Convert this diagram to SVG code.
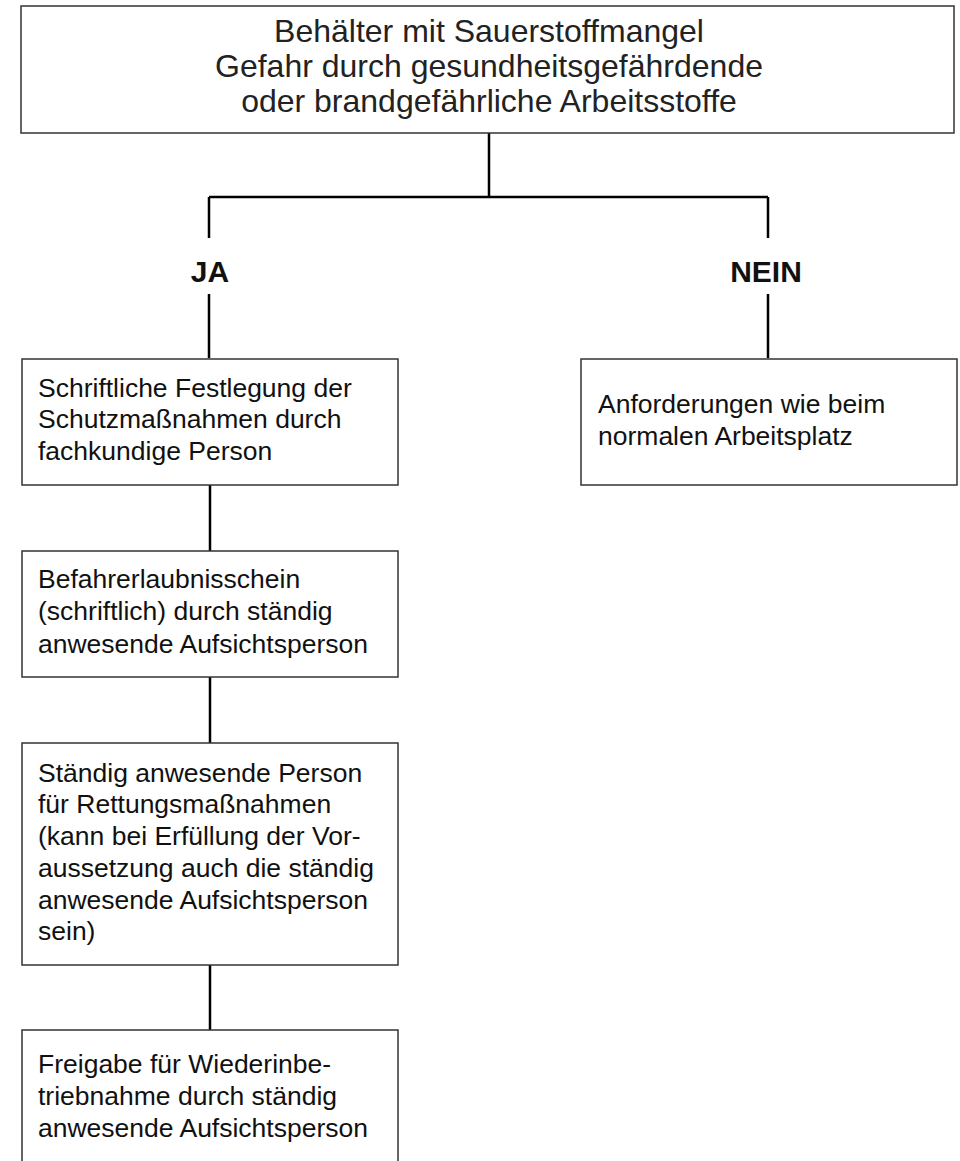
<svg xmlns="http://www.w3.org/2000/svg" width="960" height="1161" viewBox="0 0 960 1161">
<style>
.box{fill:#fff;stroke:#333;stroke-width:1.5}
.t{font-family:"Liberation Sans",Arial,sans-serif;font-size:26.5px;fill:#111}
.h{font-family:"Liberation Sans",Arial,sans-serif;font-size:32px;fill:#222;text-anchor:middle}
.lbl{font-family:"Liberation Sans",Arial,sans-serif;font-size:30px;font-weight:bold;fill:#111;text-anchor:middle}
.c{stroke:#000;stroke-width:2.5;fill:none}
</style>
<rect width="960" height="1161" fill="#fff"/>
<g id="connectors">
<path class="c" d="M489 133V197M209 197H768M209 197V238M209 294V358M768 197V238M768 294V358"/>
<path class="c" d="M210 485V551M210 677V743M210 965V1030"/>
<text class="lbl" x="210" y="282">JA</text>
<text class="lbl" x="766" y="282">NEIN</text>
</g>
<g id="top">
<rect class="box" x="21" y="6" width="933" height="127"/>
<text class="h" x="489" y="42">Behälter mit Sauerstoffmangel</text>
<text class="h" x="489" y="77">Gefahr durch gesundheitsgefährdende</text>
<text class="h" x="489" y="112">oder brandgefährliche Arbeitsstoffe</text>
</g>
<g id="ja1">
<rect class="box" x="22" y="359" width="376" height="126"/>
<text class="t" x="38" y="397">Schriftliche Festlegung der</text>
<text class="t" x="38" y="428">Schutzmaßnahmen durch</text>
<text class="t" x="38" y="460">fachkundige Person</text>
</g>
<g id="nein1">
<rect class="box" x="581" y="359" width="376" height="126"/>
<text class="t" x="598" y="413">Anforderungen wie beim</text>
<text class="t" x="598" y="445">normalen Arbeitsplatz</text>
</g>
<g id="ja2">
<rect class="box" x="22" y="551" width="376" height="126"/>
<text class="t" x="38" y="588">Befahrerlaubnisschein</text>
<text class="t" x="38" y="620">(schriftlich) durch ständig</text>
<text class="t" x="38" y="653">anwesende Aufsichtsperson</text>
</g>
<g id="ja3">
<rect class="box" x="22" y="743" width="376" height="222"/>
<text class="t" x="38" y="782">Ständig anwesende Person</text>
<text class="t" x="38" y="813">für Rettungsmaßnahmen</text>
<text class="t" x="38" y="845">(kann bei Erfüllung der Vor-</text>
<text class="t" x="38" y="877">aussetzung auch die ständig</text>
<text class="t" x="38" y="909">anwesende Aufsichtsperson</text>
<text class="t" x="38" y="940">sein)</text>
</g>
<g id="ja4">
<rect class="box" x="22" y="1030" width="376" height="150"/>
<text class="t" x="38" y="1073">Freigabe für Wiederinbe-</text>
<text class="t" x="38" y="1105">triebnahme durch ständig</text>
<text class="t" x="38" y="1137">anwesende Aufsichtsperson</text>
</g>
</svg>
